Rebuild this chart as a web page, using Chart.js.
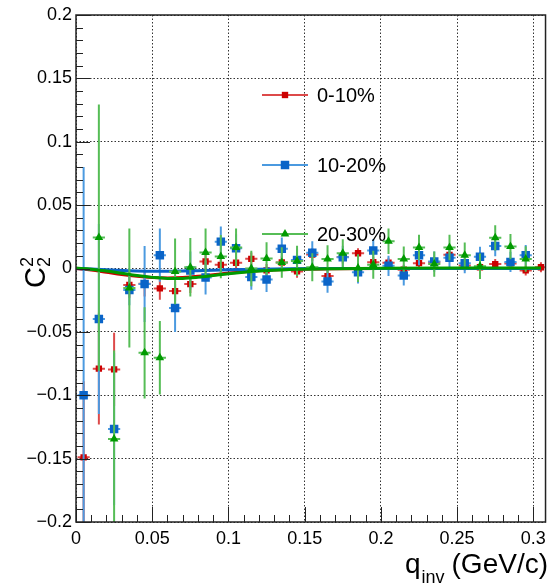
<!DOCTYPE html>
<html>
<head>
<meta charset="utf-8">
<script src="https://cdn.jsdelivr.net/npm/chart.js@4.4.1/dist/chart.umd.min.js"></script>
<style>
    html, body { margin: 0; padding: 0; background: #fff; }
    #wrap { width: 552px; height: 588px; }
</style>
</head>
<body>
<div id="wrap"><canvas id="c2Chart" width="552" height="588"></canvas></div>
<script>
// ===== DATA =====
// q_inv bin centres (GeV/c), half bin width used for the horizontal bars
const qBins = [0.005, 0.015, 0.025, 0.035, 0.045, 0.055, 0.065, 0.075, 0.085, 0.095,
               0.105, 0.115, 0.125, 0.135, 0.145, 0.155, 0.165, 0.175, 0.185, 0.195,
               0.205, 0.215, 0.225, 0.235, 0.245, 0.255, 0.265, 0.275, 0.285, 0.295, 0.305];
const qHalfWidth = 0.004;

// 0-10%
const c2Central = [-0.149, -0.079, -0.0796, -0.013, -0.012, -0.0157, -0.0178, -0.0123, 0.0055, 0.0029,
                   0.0045, 0.0076, -0.0015, 0.0047, -0.0023, 0.011, -0.006, 0.009, 0.012, 0.005,
                   0.0045, -0.001, 0.0042, 0.005, 0.0108, 0.0024, 0.001, 0.0035, 0.004, -0.0015, 0.001];
const c2CentralErr = [0.06, 0.044, 0.029, 0.01, 0.01, 0.009, 0.008, 0.007, 0.006, 0.006,
                      0.005, 0.005, 0.005, 0.005, 0.005, 0.005, 0.005, 0.005, 0.004, 0.004,
                      0.004, 0.004, 0.004, 0.004, 0.004, 0.004, 0.004, 0.004, 0.004, 0.004, 0.004];

// 10-20%
const c2Mid = [-0.1, -0.0398, -0.1267, -0.017, -0.0123, 0.0105, -0.0311, -0.0015, -0.0071, 0.0212,
               0.016, -0.0068, -0.0086, 0.0155, 0.0068, 0.0125, -0.0102, 0.0089, -0.0029, 0.0142,
               0.0021, -0.0055, 0.0105, 0.0055, 0.0085, 0.0042, 0.0092, 0.0177, 0.0052, 0.0105, null];
const c2MidErr = [0.18, 0.075, 0.06, 0.012, 0.03, 0.021, 0.019, 0.015, 0.0135, 0.012,
                  0.011, 0.01, 0.01, 0.009, 0.009, 0.009, 0.009, 0.009, 0.009, 0.009,
                  0.008, 0.008, 0.008, 0.008, 0.008, 0.008, 0.008, 0.008, 0.008, 0.008, 0];

// 20-30%
const c2Peripheral = [null, 0.0244, -0.1346, -0.0154, -0.0665, -0.0704, -0.0023, 0.001, 0.0126, 0.0094,
                      0.0165, 0.0, 0.0078, 0.0047, 0.006, 0.001, 0.0074, 0.012, 0.0003, 0.003,
                      0.0215, 0.0074, 0.0166, 0.0035, 0.0166, 0.0105, 0.0018, 0.0242, 0.0173, 0.0075, null];
const c2PeripheralErr = [0, 0.105, 0.07, 0.047, 0.036, 0.029, 0.026, 0.023, 0.019, 0.017,
                         0.015, 0.014, 0.013, 0.012, 0.012, 0.011, 0.011, 0.011, 0.011, 0.011,
                         0.01, 0.01, 0.01, 0.01, 0.01, 0.01, 0.01, 0.01, 0.01, 0.01, 0];

// fit curves
const fitQ = [0, 0.01, 0.02, 0.03, 0.04, 0.05, 0.06, 0.07, 0.08, 0.09, 0.10, 0.12, 0.14, 0.17, 0.20, 0.25, 0.305];
const fitCentral = [0, -0.0012, -0.003, -0.0048, -0.0062, -0.0071, -0.0074, -0.0071, -0.0062, -0.0049,
                    -0.0036, -0.0017, -0.0007, -0.0001, 0, 0, 0];
const fitMid = [0, -0.0004, -0.001, -0.0016, -0.002, -0.0022, -0.0022, -0.002, -0.0017, -0.0014,
                -0.001, -0.0005, -0.0002, 0, 0, 0, 0];
const fitPeripheral = [0.0003, -0.0005, -0.002, -0.0038, -0.0056, -0.007, -0.0078, -0.0078, -0.007, -0.0056,
                       -0.0041, -0.002, -0.0008, -0.0001, 0.0002, 0.0003, 0.0003];

const legendLabels = ['0-10%', '10-20%', '20-30%'];

const xTickValues = [0, 0.05, 0.1, 0.15, 0.2, 0.25, 0.3];
const xTickLabels = ['0', '0.05', '0.1', '0.15', '0.2', '0.25', '0.3'];
const yTickValues = [-0.2, -0.15, -0.1, -0.05, 0, 0.05, 0.1, 0.15, 0.2];
const yTickLabels = ['\u22120.2', '\u22120.15', '\u22120.1', '\u22120.05', '0', '0.05', '0.1', '0.15', '0.2'];

// ===== STYLE =====
const RED = '#cc0000', RED_BAR = '#dd4a4a';
const BLUE = '#0a64c8', BLUE_BAR = '#4b9ae0';
const GREEN = '#009a00', GREEN_BAR = '#56bd56';
const FONT = '"Liberation Sans", Arial, Helvetica, sans-serif';

function points(values, errs) {
    const out = [];
    values.forEach((v, i) => {
        if (v === null) return;
        out.push({ x: qBins[i], y: v, e: errs[i] });
    });
    return out;
}

function curve(values) {
    return fitQ.map((q, i) => ({ x: q, y: values[i] }));
}

// error bars drawn right before each graph's markers
const errorBars = {
    id: 'errorBars',
    beforeDatasetDraw(chart, args) {
        const ds = chart.data.datasets[args.index];
        if (!ds.barColor) return;
        const { ctx, chartArea: a, scales: { x, y } } = chart;
        ctx.save();
        ctx.beginPath();
        ctx.rect(a.left, a.top, a.width, a.height);
        ctx.clip();
        ctx.strokeStyle = ds.barColor;
        ctx.lineWidth = 2;
        ds.data.forEach(p => {
            const px = x.getPixelForValue(p.x);
            const py = y.getPixelForValue(p.y);
            ctx.beginPath();
            ctx.moveTo(x.getPixelForValue(p.x - qHalfWidth), py);
            ctx.lineTo(x.getPixelForValue(p.x + qHalfWidth), py);
            if (p.e > 0) {
                ctx.moveTo(px, y.getPixelForValue(p.y - p.e));
                ctx.lineTo(px, y.getPixelForValue(p.y + p.e));
            }
            ctx.stroke();
        });
        ctx.restore();
    }
};

// ROOT-like frame: inward ticks, titles and legend
const frameDecor = {
    id: 'frameDecor',
    afterDraw(chart) {
        const { ctx, chartArea: a, scales: { x, y } } = chart;
        ctx.save();
        ctx.strokeStyle = '#222';
        ctx.lineWidth = 1;
        // minor + major ticks on x
        for (let k = 0; k <= 30; k++) {
            const v = k * 0.01;
            const px = Math.round(x.getPixelForValue(v)) + 0.5;
            const len = (k % 5 === 0) ? 15 : 7;
            ctx.beginPath();
            ctx.moveTo(px, a.bottom);
            ctx.lineTo(px, a.bottom - len);
            ctx.stroke();
        }
        // minor + major ticks on y
        for (let k = -20; k <= 20; k++) {
            const v = k * 0.01;
            const py = Math.round(y.getPixelForValue(v)) + 0.5;
            const len = (k % 5 === 0) ? 14 : 7;
            ctx.beginPath();
            ctx.moveTo(a.left, py);
            ctx.lineTo(a.left + len, py);
            ctx.stroke();
        }
        // frame
        ctx.lineWidth = 1.5;
        ctx.strokeRect(a.left, a.top, a.width, a.height);

        // y title: C_2^2
        ctx.fillStyle = '#000';
        ctx.translate(45, 274);
        ctx.rotate(-Math.PI / 2);
        ctx.textBaseline = 'alphabetic';
        ctx.font = '29px ' + FONT;
        ctx.fillText('C', -14, 0);
        ctx.font = '18px ' + FONT;
        ctx.fillText('2', 7, -12);
        ctx.fillText('2', 7, 5);
        ctx.setTransform(1, 0, 0, 1, 0, 0);

        // x title: q_inv (GeV/c)
        ctx.font = '28px ' + FONT;
        ctx.textAlign = 'right';
        ctx.fillText('(GeV/c)', 548, 573);
        const w = ctx.measureText('(GeV/c)').width;
        ctx.font = '18px ' + FONT;
        ctx.fillText('inv', 548 - w - 7, 583);
        const wi = ctx.measureText('inv').width;
        ctx.font = '28px ' + FONT;
        ctx.fillText('q', 548 - w - 7 - wi - 1, 573);

        // legend
        const colors = [[RED, RED_BAR, 'rect', 4.5], [BLUE, BLUE_BAR, 'rect', 6], [GREEN, GREEN_BAR, 'triangle', 5]];
        const rowsY = [95, 165, 234];
        ctx.textAlign = 'left';
        ctx.textBaseline = 'middle';
        ctx.font = '20px ' + FONT;
        legendLabels.forEach((label, i) => {
            const [c, cb, style, r] = colors[i];
            const ly = rowsY[i];
            ctx.strokeStyle = cb;
            ctx.lineWidth = 2;
            ctx.beginPath();
            ctx.moveTo(262, ly);
            ctx.lineTo(308, ly);
            ctx.stroke();
            ctx.fillStyle = c;
            Chart.helpers.drawPoint(ctx, { pointStyle: style, radius: r, borderWidth: 0 }, 285, ly);
            ctx.fillStyle = '#000';
            ctx.fillText(label, 317, ly + 1);
        });
        ctx.restore();
    }
};

const ctx = document.getElementById('c2Chart');

new Chart(ctx, {
    type: 'scatter',
    data: {
        datasets: [
            { label: '0-10%', data: points(c2Central, c2CentralErr), barColor: RED_BAR, order: 6,
              pointStyle: 'rect', pointRadius: 4.5, backgroundColor: RED, borderWidth: 0 },
            { label: 'fit 0-10%', data: curve(fitCentral), order: 5, showLine: true,
              borderColor: RED, borderWidth: 3, pointRadius: 0, cubicInterpolationMode: 'monotone' },
            { label: '10-20%', data: points(c2Mid, c2MidErr), barColor: BLUE_BAR, order: 4,
              pointStyle: 'rect', pointRadius: 6, backgroundColor: BLUE, borderWidth: 0 },
            { label: 'fit 10-20%', data: curve(fitMid), order: 3, showLine: true,
              borderColor: BLUE, borderWidth: 3, pointRadius: 0, cubicInterpolationMode: 'monotone' },
            { label: '20-30%', data: points(c2Peripheral, c2PeripheralErr), barColor: GREEN_BAR, order: 2,
              pointStyle: 'triangle', pointRadius: 5, backgroundColor: GREEN, borderWidth: 0 },
            { label: 'fit 20-30%', data: curve(fitPeripheral), order: 1, showLine: true,
              borderColor: GREEN, borderWidth: 3, pointRadius: 0, cubicInterpolationMode: 'monotone' }
        ]
    },
    options: {
        responsive: false,
        animation: false,
        events: [],
        layout: { padding: { top: 15, right: 4, left: 0, bottom: 0 } },
        plugins: {
            legend: { display: false },
            tooltip: { enabled: false }
        },
        scales: {
            x: {
                type: 'linear',
                min: 0,
                max: 0.308,
                afterBuildTicks: s => { s.ticks = xTickValues.map(v => ({ value: v })); },
                afterFit: s => { s.height = 66; },
                grid: { color: '#333', lineWidth: 1, drawTicks: false },
                border: { display: false, dash: [1.5, 2] },
                ticks: {
                    autoSkip: false, maxRotation: 0, padding: 6, color: '#000',
                    font: { family: FONT, size: 18 },
                    callback: (v, i) => xTickLabels[i]
                }
            },
            y: {
                type: 'linear',
                min: -0.2,
                max: 0.2,
                afterBuildTicks: s => { s.ticks = yTickValues.map(v => ({ value: v })); },
                afterFit: s => { s.width = 76; },
                grid: { color: '#333', lineWidth: 1, drawTicks: false },
                border: { display: false, dash: [1.5, 2] },
                ticks: {
                    autoSkip: false, padding: 4, color: '#000',
                    font: { family: FONT, size: 18 },
                    callback: (v, i) => yTickLabels[i]
                }
            }
        }
    },
    plugins: [errorBars, frameDecor]
});
</script>
</body>
</html>
